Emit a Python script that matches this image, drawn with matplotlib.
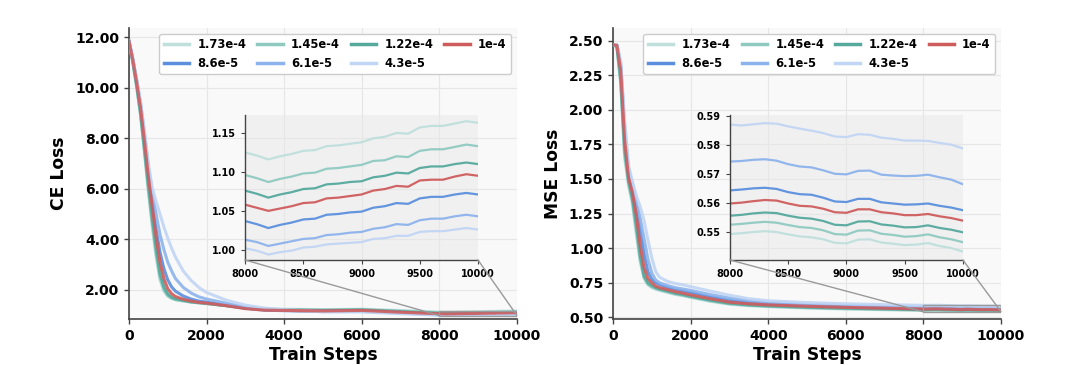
import matplotlib
matplotlib.use("Agg")
import matplotlib.pyplot as plt
from matplotlib.lines import Line2D
from matplotlib.patches import Rectangle, ConnectionPatch

# ---------------- data ----------------
steps = [0, 100, 200, 300, 400, 500, 600, 700, 800, 900, 1000, 1100, 1200,
         1400, 1600, 1800, 2000, 2500, 3000, 3500, 4000, 5000, 6000, 7000,
         8000, 8100, 8200, 8300, 8400, 8500, 8600, 8700, 8800, 8900, 9000,
         9100, 9200, 9300, 9400, 9500, 9600, 9700, 9800, 9900, 10000]

lr_labels = ["1.73e-4", "1.45e-4", "1.22e-4", "1e-4", "8.6e-5", "6.1e-5", "4.3e-5"]
lr_colors = ["#bfe0dc", "#8fcac1", "#55a99d", "#cf5c5c", "#5b8fdd", "#8db3ec", "#c1d5f4"]

ce_173 = [11.85, 11.0, 10.0, 8.9, 7.4, 5.9, 4.5, 3.3, 2.4, 1.95, 1.75, 1.66, 1.61,
          1.56, 1.52, 1.49, 1.46, 1.38, 1.30, 1.25, 1.24, 1.22, 1.24, 1.19,
          1.125, 1.121, 1.116, 1.120, 1.123, 1.127, 1.128, 1.133, 1.134, 1.136, 1.138,
          1.143, 1.145, 1.150, 1.149, 1.157, 1.159, 1.159, 1.162, 1.165, 1.163]
ce_145 = [11.85, 11.02, 10.05, 8.95, 7.5, 6.0, 4.65, 3.45, 2.5, 2.02, 1.78, 1.68, 1.62,
          1.57, 1.52, 1.49, 1.46, 1.38, 1.29, 1.24, 1.22, 1.20, 1.22, 1.16,
          1.096, 1.092, 1.087, 1.091, 1.094, 1.098, 1.099, 1.104, 1.105, 1.107, 1.109,
          1.114, 1.115, 1.120, 1.119, 1.127, 1.129, 1.129, 1.132, 1.135, 1.133]
ce_122 = [11.85, 11.05, 10.1, 9.0, 7.6, 6.15, 4.85, 3.65, 2.65, 2.12, 1.84, 1.71, 1.65,
          1.59, 1.53, 1.50, 1.47, 1.38, 1.28, 1.22, 1.21, 1.19, 1.21, 1.14,
          1.076, 1.072, 1.067, 1.071, 1.074, 1.078, 1.079, 1.084, 1.085, 1.087, 1.088,
          1.093, 1.095, 1.099, 1.098, 1.105, 1.107, 1.107, 1.110, 1.112, 1.110]
ce_100 = [11.85, 11.1, 10.2, 9.2, 7.9, 6.5, 5.3, 4.1, 3.1, 2.45, 2.05, 1.85, 1.74,
          1.63, 1.56, 1.51, 1.48, 1.38, 1.26, 1.20, 1.19, 1.17, 1.19, 1.12,
          1.058, 1.054, 1.050, 1.053, 1.056, 1.060, 1.061, 1.066, 1.067, 1.069, 1.071,
          1.076, 1.078, 1.082, 1.081, 1.089, 1.090, 1.090, 1.094, 1.097, 1.095]
ce_086 = [11.85, 11.12, 10.25, 9.3, 8.0, 6.7, 5.5, 4.4, 3.5, 2.85, 2.4, 2.12, 1.95,
          1.76, 1.64, 1.56, 1.52, 1.41, 1.28, 1.20, 1.18, 1.16, 1.17, 1.10,
          1.037, 1.033, 1.028, 1.032, 1.035, 1.039, 1.040, 1.045, 1.046, 1.048, 1.049,
          1.054, 1.056, 1.060, 1.059, 1.066, 1.068, 1.068, 1.071, 1.073, 1.071]
ce_061 = [11.85, 11.15, 10.3, 9.4, 8.2, 6.9, 5.85, 5.0, 4.2, 3.6, 3.1, 2.75, 2.45,
          2.1, 1.88, 1.73, 1.64, 1.48, 1.33, 1.23, 1.19, 1.14, 1.15, 1.08,
          1.013, 1.010, 1.005, 1.008, 1.011, 1.014, 1.015, 1.019, 1.020, 1.022, 1.023,
          1.027, 1.029, 1.033, 1.032, 1.038, 1.040, 1.040, 1.043, 1.045, 1.043]
ce_043 = [11.85, 11.15, 10.35, 9.45, 8.3, 7.0, 6.05, 5.5, 5.0, 4.5, 4.05, 3.65, 3.3,
          2.75, 2.38, 2.1, 1.9, 1.6, 1.40, 1.28, 1.22, 1.14, 1.13, 1.06,
          1.002, 0.999, 0.994, 0.997, 0.999, 1.003, 1.004, 1.007, 1.008, 1.009, 1.010,
          1.014, 1.015, 1.018, 1.018, 1.023, 1.024, 1.024, 1.026, 1.028, 1.026]

mse_173 = [2.47, 2.45, 2.18, 1.65, 1.45, 1.32, 1.10, 0.90, 0.78, 0.735, 0.715, 0.703, 0.695,
           0.68, 0.666, 0.656, 0.644, 0.616, 0.595, 0.584, 0.577, 0.567, 0.560, 0.555,
           0.5493, 0.5496, 0.5500, 0.5503, 0.5500, 0.5492, 0.5485, 0.5482, 0.5475, 0.5463, 0.5461,
           0.5474, 0.5475, 0.5464, 0.5460, 0.5455, 0.5457, 0.5462, 0.5452, 0.5445, 0.5433]
mse_145 = [2.47, 2.455, 2.20, 1.68, 1.47, 1.34, 1.13, 0.92, 0.79, 0.74, 0.72, 0.708, 0.70,
           0.685, 0.67, 0.66, 0.648, 0.62, 0.598, 0.587, 0.58, 0.57, 0.563, 0.558,
           0.5525, 0.5528, 0.5532, 0.5535, 0.5532, 0.5524, 0.5517, 0.5514, 0.5506, 0.5493, 0.5491,
           0.5505, 0.5506, 0.5494, 0.5490, 0.5484, 0.5486, 0.5492, 0.5482, 0.5475, 0.5465]
mse_122 = [2.47, 2.46, 2.22, 1.72, 1.49, 1.36, 1.17, 0.95, 0.80, 0.75, 0.73, 0.715, 0.705,
           0.69, 0.675, 0.665, 0.652, 0.625, 0.602, 0.59, 0.583, 0.573, 0.566, 0.561,
           0.5556, 0.5559, 0.5564, 0.5567, 0.5565, 0.5556, 0.5549, 0.5546, 0.5538, 0.5525, 0.5523,
           0.5536, 0.5537, 0.5526, 0.5522, 0.5516, 0.5517, 0.5523, 0.5514, 0.5508, 0.5499]
mse_100 = [2.47, 2.465, 2.28, 1.78, 1.51, 1.40, 1.24, 1.02, 0.86, 0.78, 0.75, 0.725, 0.715,
           0.70, 0.686, 0.675, 0.662, 0.635, 0.61, 0.598, 0.59, 0.58, 0.572, 0.566,
           0.5598, 0.5601, 0.5606, 0.5610, 0.5608, 0.5598, 0.5590, 0.5588, 0.5580, 0.5568, 0.5566,
           0.5578, 0.5578, 0.5568, 0.5564, 0.5558, 0.5558, 0.5562, 0.5554, 0.5548, 0.5539]
mse_086 = [2.47, 2.465, 2.31, 1.84, 1.55, 1.43, 1.30, 1.14, 0.96, 0.83, 0.775, 0.75, 0.737,
           0.718, 0.703, 0.692, 0.68, 0.65, 0.623, 0.608, 0.598, 0.585, 0.577, 0.57,
           0.5643, 0.5646, 0.5650, 0.5652, 0.5648, 0.5637, 0.5630, 0.5628, 0.5618, 0.5605, 0.5603,
           0.5614, 0.5614, 0.5602, 0.5598, 0.5594, 0.5595, 0.5598, 0.5590, 0.5584, 0.5575]
mse_061 = [2.47, 2.47, 2.33, 1.88, 1.57, 1.46, 1.34, 1.22, 1.07, 0.92, 0.82, 0.77, 0.75,
           0.73, 0.715, 0.705, 0.695, 0.665, 0.64, 0.622, 0.61, 0.595, 0.586, 0.58,
           0.5742, 0.5744, 0.5748, 0.5750, 0.5745, 0.5733, 0.5725, 0.5722, 0.5712, 0.5700, 0.5698,
           0.5710, 0.5711, 0.5697, 0.5694, 0.5692, 0.5693, 0.5697, 0.5688, 0.5680, 0.5664]
mse_043 = [2.47, 2.47, 2.35, 1.92, 1.60, 1.48, 1.38, 1.30, 1.20, 1.06, 0.93, 0.83, 0.79,
           0.76, 0.745, 0.735, 0.722, 0.69, 0.66, 0.635, 0.62, 0.607, 0.598, 0.592,
           0.5869, 0.5866, 0.5870, 0.5874, 0.5872, 0.5863, 0.5855, 0.5848, 0.5840, 0.5828, 0.5826,
           0.5836, 0.5834, 0.5824, 0.5820, 0.5814, 0.5814, 0.5813, 0.5806, 0.5800, 0.5787]

ce_series = [ce_173, ce_145, ce_122, ce_100, ce_086, ce_061, ce_043]
mse_series = [mse_173, mse_145, mse_122, mse_100, mse_086, mse_061, mse_043]

plt.rcParams["font.family"] = "DejaVu Sans"
plt.rcParams["font.weight"] = "bold"
plt.rcParams["axes.labelweight"] = "bold"

fig = plt.figure(figsize=(10.8, 3.65), dpi=100)

panels = [
    # main rect, inset rect, ylabel, data, limits and ticks
    dict(main=[0.1194, 0.126, 0.3593, 0.797], ins=[0.2269, 0.2877, 0.2157, 0.3973],
         ylabel="CE Loss", data=ce_series, ylim=(0.85, 12.37),
         yticks=[2, 4, 6, 8, 10, 12], ins_ylim=(0.987, 1.173),
         ins_yticks=[1.00, 1.05, 1.10, 1.15]),
    dict(main=[0.5676, 0.126, 0.3593, 0.797], ins=[0.6759, 0.2877, 0.2157, 0.3973],
         ylabel="MSE Loss", data=mse_series, ylim=(0.488, 2.59),
         yticks=[0.5, 0.75, 1.0, 1.25, 1.5, 1.75, 2.0, 2.25, 2.5], ins_ylim=(0.5404, 0.5902),
         ins_yticks=[0.55, 0.56, 0.57, 0.58, 0.59]),
]

spine_c = "#444444"

for p in panels:
    ax = fig.add_axes(p["main"])
    ax.set_facecolor("#f9f9f9")
    ax.grid(True, color="#e6e6e6", lw=0.8)
    ax.set_axisbelow(True)
    for s in ("top", "right"):
        ax.spines[s].set_visible(False)
    for s in ("left", "bottom"):
        ax.spines[s].set_color(spine_c)
        ax.spines[s].set_linewidth(1.2)

    # --- curves (red on top) ---
    for lab, col, ys in zip(lr_labels, lr_colors, p["data"]):
        z = 4 if lab == "1e-4" else 3
        ax.plot(steps, ys, color=col, lw=2.2, alpha=0.9, zorder=z)

    ax.set_xlim(0, 10000)
    ax.set_ylim(*p["ylim"])
    ax.set_xticks([0, 2000, 4000, 6000, 8000, 10000])
    ax.set_yticks(p["yticks"])
    ax.yaxis.set_major_formatter(plt.FormatStrFormatter("%.2f"))
    ax.tick_params(labelsize=10, color=spine_c, length=3.5, width=1)
    ax.set_xlabel("Train Steps", fontsize=12.3, labelpad=2)
    ax.set_ylabel(p["ylabel"], fontsize=12.3, labelpad=5)

    # --- legend, row-major order ---
    handles = [Line2D([], [], color=c, lw=2.5) for c in lr_colors]
    order = [0, 4, 1, 5, 2, 6, 3]
    ax.legend([handles[k] for k in order], [lr_labels[k] for k in order],
              ncol=4, loc="upper right", fontsize=8.3, frameon=True,
              facecolor="white", edgecolor="#cccccc", framealpha=1,
              handlelength=2.2, columnspacing=0.95, borderpad=0.4,
              labelspacing=0.45, handletextpad=0.72)

    # --- inset ---
    axins = fig.add_axes(p["ins"])
    axins.set_facecolor((0.9, 0.9, 0.9, 0.45))
    for s in ("top", "right"):
        axins.spines[s].set_visible(False)
    for s in ("left", "bottom"):
        axins.spines[s].set_color(spine_c)
        axins.spines[s].set_linewidth(1.0)
    for col, ys in zip(lr_colors, p["data"]):
        axins.plot(steps, ys, color=col, lw=1.6, alpha=0.95)
    axins.set_xlim(8000, 10000)
    axins.set_ylim(*p["ins_ylim"])
    axins.set_xticks([8000, 8500, 9000, 9500, 10000])
    axins.set_yticks(p["ins_yticks"])
    axins.yaxis.set_major_formatter(plt.FormatStrFormatter("%.2f"))
    axins.tick_params(labelsize=7, color=spine_c, length=3, width=0.8)

    # --- zoom indicator: box + two connectors ---
    y0, y1 = p["ins_ylim"]
    ax.add_patch(Rectangle((8000, y0), 2000, y1 - y0, fill=False,
                           edgecolor="#9a9a9a", lw=1.0, zorder=5))
    for xa, xb in ((8000, 0), (10000, 1)):
        con = ConnectionPatch(xyA=(xa, y0), coordsA=ax.transData,
                              xyB=(xb, 0), coordsB=axins.transAxes,
                              color="#9a9a9a", lw=1.0)
        fig.add_artist(con)

fig.savefig("out.png", dpi=100)
